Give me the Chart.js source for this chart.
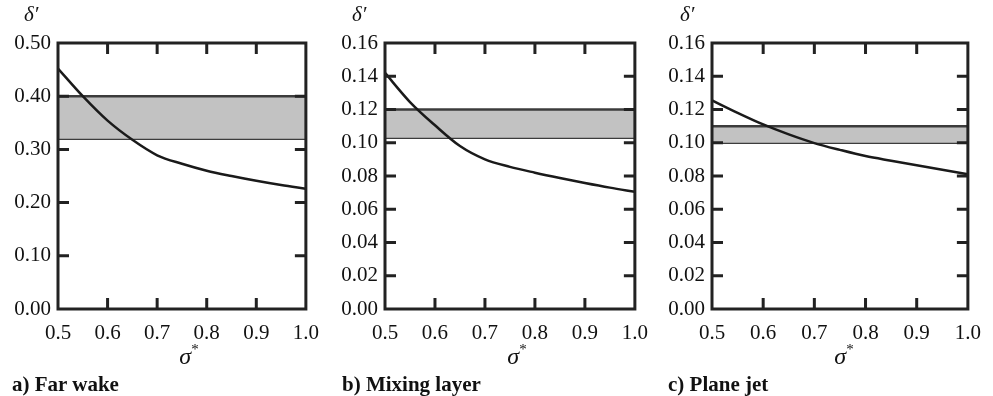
<!DOCTYPE html>
<html>
<head>
<meta charset="utf-8">
<script src="https://cdn.jsdelivr.net/npm/chart.js@4.4.1/dist/chart.umd.min.js"></script>
<style>
  body { margin: 0; background: #fff; font-family: 'Liberation Serif', serif; }
  #wrap { position: relative; width: 993px; height: 396px; overflow: hidden; }
  .panel { position: absolute; top: 0; height: 396px; }
  .ylab { position: absolute; top: 2px; font-style: italic; font-size: 21px; color: #111; }
  .xlab { position: absolute; top: 342px; font-style: italic; font-size: 24px; color: #111; transform: translateX(-50%); }
  .xlab sup { font-size: 15px; font-style: normal; position: relative; top: -1px; }
  .cap { position: absolute; top: 372px; font-weight: bold; font-size: 21px; color: #111; }
</style>
</head>
<body>
<div id="wrap">
  <div class="panel" style="left:0;width:331px"><canvas id="chartA"></canvas></div>
  <div class="panel" style="left:331px;width:329px"><canvas id="chartB"></canvas></div>
  <div class="panel" style="left:660px;width:333px"><canvas id="chartC"></canvas></div>

  <div class="ylab" style="left:24px">δ′</div>
  <div class="ylab" style="left:352px">δ′</div>
  <div class="ylab" style="left:680px">δ′</div>

  <div class="xlab" style="left:189px">σ<sup>*</sup></div>
  <div class="xlab" style="left:517px">σ<sup>*</sup></div>
  <div class="xlab" style="left:844px">σ<sup>*</sup></div>

  <div class="cap" style="left:12px">a) Far wake</div>
  <div class="cap" style="left:342px">b) Mixing layer</div>
  <div class="cap" style="left:668px">c) Plane jet</div>
</div>

<script>
// sigma* positions where the curves were read
const sigma = [0.5, 0.55, 0.6, 0.65, 0.7, 0.75, 0.8, 0.85, 0.9, 0.95, 1.0];

// delta' curves
const farWake     = [0.452, 0.400, 0.354, 0.318, 0.289, 0.273, 0.260, 0.250, 0.241, 0.233, 0.226];
const mixingLayer = [0.142, 0.1245, 0.1105, 0.098, 0.090, 0.0855, 0.082, 0.0788, 0.0758, 0.073, 0.0705];
const planeJet    = [0.1255, 0.118, 0.111, 0.105, 0.0998, 0.0957, 0.092, 0.0892, 0.0865, 0.0837, 0.081];

// shaded bands [lower, upper]
const bandSigma      = [0.5, 1.0];
const farWakeBand    = [0.32, 0.40];
const mixingBand     = [0.103, 0.12];
const planeJetBand   = [0.10, 0.11];

// axis ranges
const yMaxA = 0.5, yStepA = 0.1;
const yMaxBC = 0.16, yStepBC = 0.02;

Chart.defaults.font.family = "'Liberation Serif', 'Times New Roman', serif";
Chart.defaults.color = '#111';

const toPts = (xs, ys) => xs.map((x, i) => ({ x: x, y: ys[i] }));

// frame + inward ticks on all four sides
const framePlugin = {
  id: 'frame',
  afterDatasetsDraw(chart) {
    const { ctx, chartArea: a, scales } = chart;
    const len = 11;
    ctx.save();
    ctx.strokeStyle = '#222';
    ctx.lineWidth = 3;
    ctx.beginPath();
    scales.x.ticks.forEach(t => {
      const px = scales.x.getPixelForValue(t.value);
      if (px <= a.left + 1 || px >= a.right - 1) return;
      ctx.moveTo(px, a.bottom); ctx.lineTo(px, a.bottom - len);
      ctx.moveTo(px, a.top); ctx.lineTo(px, a.top + len);
    });
    scales.y.ticks.forEach(t => {
      const py = scales.y.getPixelForValue(t.value);
      if (py <= a.top + 1 || py >= a.bottom - 1) return;
      ctx.moveTo(a.left, py); ctx.lineTo(a.left + len, py);
      ctx.moveTo(a.right, py); ctx.lineTo(a.right - len, py);
    });
    ctx.stroke();
    ctx.strokeRect(a.left, a.top, a.right - a.left, a.bottom - a.top);
    ctx.restore();
  }
};

function makeChart(id, curve, band, yMax, yStep, yWidth, padRight) {
  const ctx = document.getElementById(id).getContext('2d');
  return new Chart(ctx, {
    type: 'line',
    data: {
      datasets: [
        {
          data: toPts(sigma, curve),
          borderColor: '#1a1a1a',
          borderWidth: 2.5,
          pointRadius: 0,
          cubicInterpolationMode: 'monotone',
          fill: false
        },
        {
          data: toPts(bandSigma, [band[1], band[1]]),
          borderColor: '#3c3c3c',
          borderWidth: 2.5,
          pointRadius: 0,
          backgroundColor: '#c2c2c2',
          fill: '+1'
        },
        {
          data: toPts(bandSigma, [band[0], band[0]]),
          borderColor: '#3c3c3c',
          borderWidth: 2.5,
          pointRadius: 0,
          fill: false
        }
      ]
    },
    options: {
      responsive: true,
      maintainAspectRatio: false,
      animation: false,
      layout: { padding: { top: 43, right: padRight, bottom: 57, left: 0 } },
      plugins: { legend: { display: false }, tooltip: { enabled: false } },
      scales: {
        x: {
          type: 'linear',
          min: 0.5,
          max: 1.0,
          grid: { display: false, drawTicks: false },
          border: { display: false },
          afterFit: s => { s.height = 30; },
          ticks: {
            stepSize: 0.1,
            padding: 12,
            font: { size: 21 },
            callback: v => v.toFixed(1)
          }
        },
        y: {
          min: 0,
          max: yMax,
          grid: { display: false, drawTicks: false },
          border: { display: false },
          afterFit: s => { s.width = yWidth; },
          ticks: {
            stepSize: yStep,
            padding: 7,
            font: { size: 21 },
            callback: v => v.toFixed(2)
          }
        }
      }
    },
    plugins: [framePlugin]
  });
}

makeChart('chartA', farWake, farWakeBand, yMaxA, yStepA, 58, 9);
makeChart('chartB', mixingLayer, mixingBand, yMaxBC, yStepBC, 54, 9);
makeChart('chartC', planeJet, planeJetBand, yMaxBC, yStepBC, 52, 17);
</script>
</body>
</html>
